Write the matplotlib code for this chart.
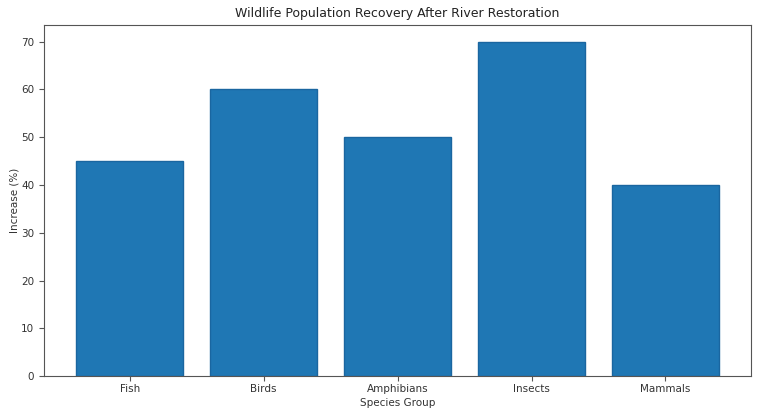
import matplotlib
matplotlib.use("Agg")
import matplotlib.pyplot as plt

species = ["Fish", "Birds", "Amphibians", "Insects", "Mammals"]
increase = [45, 60, 50, 70, 40]

fig = plt.figure(figsize=(7.58, 4.16), dpi=100)
ax = fig.add_axes([0.058, 0.096, 0.933, 0.844])
ax.bar(species, increase, color="#1f77b4", edgecolor="#1a66a0", linewidth=1)
ax.set_title("Wildlife Population Recovery After River Restoration", fontsize=9, color="#222222")
ax.set_xlabel("Species Group", fontsize=7.5, color="#333333", labelpad=3)
ax.set_ylabel("Increase (%)", fontsize=7.5, color="#333333", labelpad=1.5)
ax.tick_params(axis="x", pad=2)
ax.tick_params(labelsize=7.5, labelcolor="#333333", color="#555555")
for s in ax.spines.values():
    s.set_color("#555555")
ax.set_ylim(0, 73.5)
fig.savefig("out.png", dpi=100)
